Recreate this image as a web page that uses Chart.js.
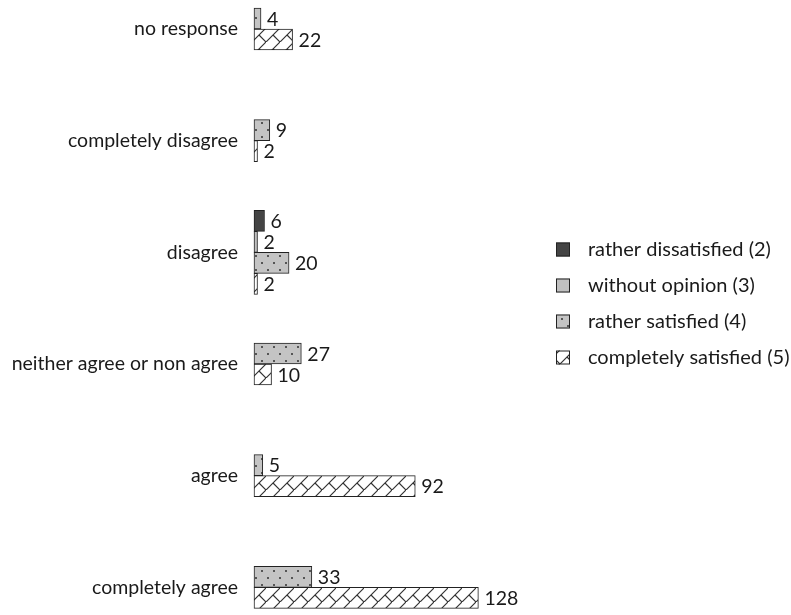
<!DOCTYPE html>
<html>
<head>
<meta charset="utf-8">
<script src="https://cdn.jsdelivr.net/npm/chart.js@4/dist/chart.umd.min.js"></script>
<style>
  html, body { margin: 0; padding: 0; background: #ffffff; }
  #wrap { width: 791px; height: 615px; position: relative; }
</style>
</head>
<body>
<div id="wrap"><canvas id="c" width="791" height="615"></canvas></div>
<script>
// Survey answers (rows) and satisfaction groups (series)
const categories = ['no response', 'completely disagree', 'disagree', 'neither agree or non agree', 'agree', 'completely agree'];
const seriesNames = ['rather dissatisfied (2)', 'without opinion (3)', 'rather satisfied (4)', 'completely satisfied (5)'];
const ratherDissatisfied = [null, null, 6, null, null, null];
const withoutOpinion = [null, null, 2, null, null, null];
const ratherSatisfied = [4, 9, 20, 27, 5, 33];
const completelySatisfied = [22, 2, 2, 10, 92, 128];

const FONT = 'Lato, "Open Sans", sans-serif';
const TEXT = '#1a1a1a';
const EDGE = '#222222';

// Dotted fill: grey ground with staggered dark dots
function dotPattern() {
  const t = document.createElement('canvas');
  t.width = 12; t.height = 14;
  const g = t.getContext('2d');
  g.fillStyle = '#c4c4c4';
  g.fillRect(0, 0, 12, 14);
  g.fillStyle = '#555555';
  g.fillRect(3, 3, 2, 2);
  g.fillRect(9, 10, 2, 2);
  return g.createPattern(t, 'repeat');
}

// Shingle fill: white ground with diagonal strokes
function shinglePattern() {
  const t = document.createElement('canvas');
  t.width = 14; t.height = 14;
  const g = t.getContext('2d');
  g.fillStyle = '#ffffff';
  g.fillRect(0, 0, 14, 14);
  g.strokeStyle = '#333333';
  g.lineWidth = 1.2;
  g.beginPath();
  g.moveTo(-1, 15); g.lineTo(15, -1);
  g.moveTo(7, 7); g.lineTo(14, 14);
  g.stroke();
  return g.createPattern(t, 'repeat');
}

const fills = ['#444444', '#c0c0c0', dotPattern(), shinglePattern()];
const seriesData = [ratherDissatisfied, withoutOpinion, ratherSatisfied, completelySatisfied];

// Numbers printed at the end of each bar
const valueLabels = {
  id: 'valueLabels',
  afterDatasetsDraw(chart) {
    const ctx = chart.ctx;
    ctx.save();
    ctx.font = '19.5px ' + FONT;
    ctx.fillStyle = TEXT;
    ctx.textAlign = 'left';
    ctx.textBaseline = 'middle';
    chart.data.datasets.forEach((ds, i) => {
      const meta = chart.getDatasetMeta(i);
      meta.data.forEach((bar, j) => {
        const v = ds.data[j];
        if (v === null || v === undefined) return;
        ctx.fillText(String(v), bar.x + 6, bar.y + 1);
      });
    });
    ctx.restore();
  }
};

// Legend column to the right of the plot
const sideLegend = {
  id: 'sideLegend',
  afterDraw(chart) {
    const ctx = chart.ctx;
    const area = chart.chartArea;
    const step = 36;
    const n = chart.data.datasets.length;
    const x0 = area.right + 11;
    let y = chart.height / 2 - step * (n - 1) / 2 - 4;
    ctx.save();
    ctx.font = '20px ' + FONT;
    ctx.textAlign = 'left';
    ctx.textBaseline = 'middle';
    chart.data.datasets.forEach(ds => {
      ctx.fillStyle = ds.backgroundColor;
      ctx.fillRect(x0, y - 7, 14, 14);
      ctx.strokeStyle = EDGE;
      ctx.lineWidth = 1;
      ctx.strokeRect(x0 + 0.5, y - 6.5, 13, 13);
      ctx.fillStyle = TEXT;
      ctx.fillText(ds.label, x0 + 32, y);
      y += step;
    });
    ctx.restore();
  }
};

new Chart(document.getElementById('c'), {
  type: 'bar',
  data: {
    labels: categories,
    datasets: seriesNames.map((name, i) => ({
      label: name,
      data: seriesData[i],
      backgroundColor: fills[i],
      borderColor: EDGE,
      borderWidth: 1,
      borderSkipped: false,
      barThickness: 21,
      skipNull: true,
      clip: false
    }))
  },
  options: {
    indexAxis: 'y',
    responsive: false,
    animation: false,
    layout: { padding: { top: 29, bottom: 22, left: 0, right: 246 } },
    scales: {
      x: {
        display: false,
        min: 0,
        max: 166
      },
      y: {
        offset: false,
        afterFit(scale) { scale.width = 254; },
        grid: { display: false, drawTicks: false },
        border: { display: false },
        ticks: {
          padding: 16,
          color: TEXT,
          font: { family: FONT, size: 19.5 }
        }
      }
    },
    plugins: {
      tooltip: { enabled: false },
      legend: { display: false }
    }
  },
  plugins: [valueLabels, sideLegend]
});
</script>
</body>
</html>
